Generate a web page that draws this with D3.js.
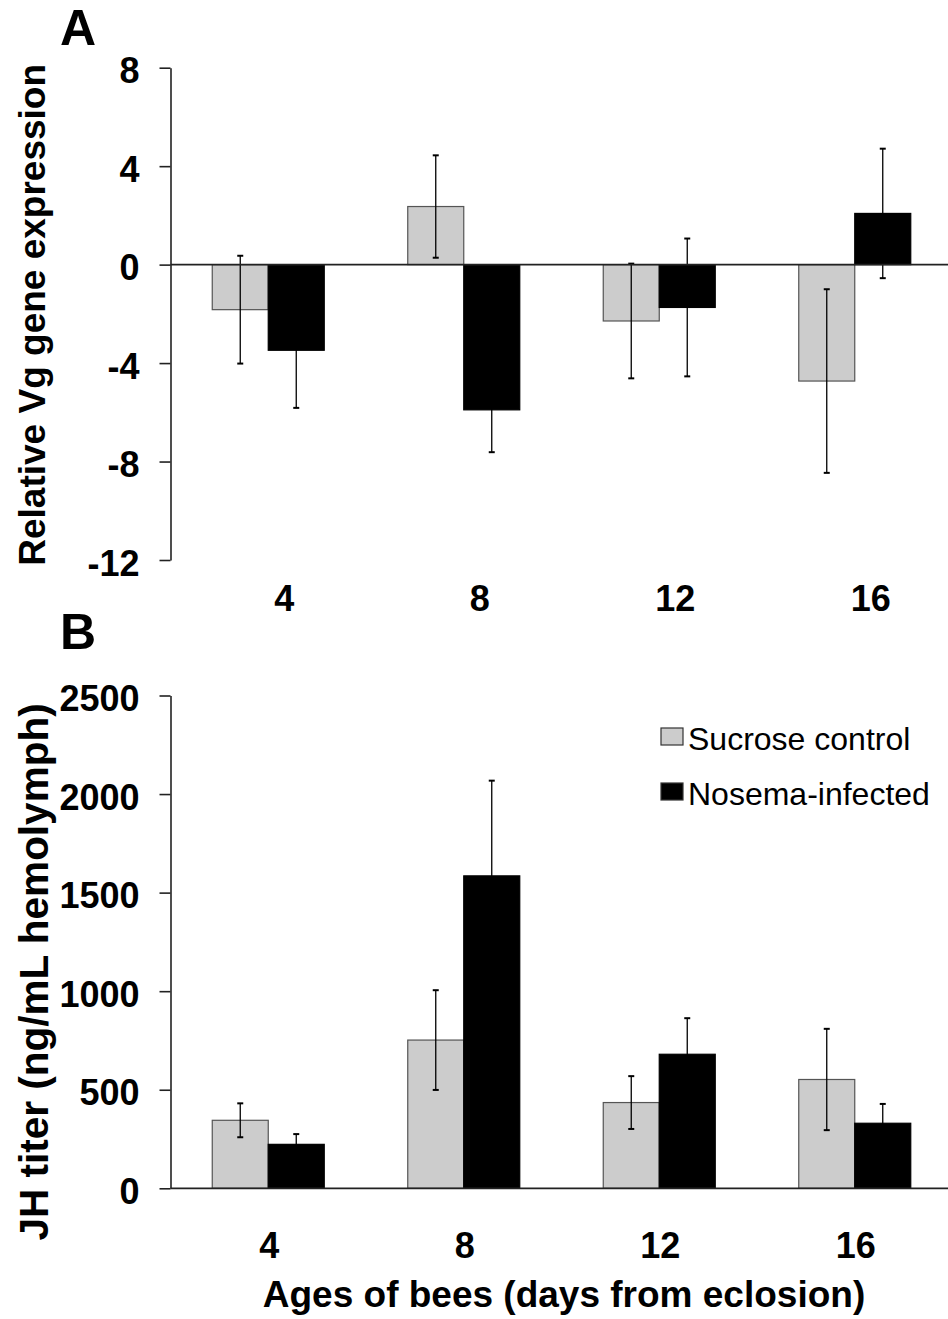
<!DOCTYPE html>
<html>
<head>
<meta charset="utf-8">
<script src="https://cdn.jsdelivr.net/npm/d3@7"></script>
<style>
  html, body { margin: 0; padding: 0; background: #fff; }
  svg { display: block; }
  text { font-family: "Liberation Sans", Arial, sans-serif; fill: #000; }
</style>
</head>
<body>
<svg id="chart" width="948" height="1319"></svg>
<script>
// ---- Data ----
const categories = ["4", "8", "12", "16"];
const seriesNames = ["Sucrose control", "Nosema-infected"];

// Panel A: Relative Vg gene expression
const vgSucrose    = [-1.83, 2.36, -2.29, -4.73];
const vgSucroseErr = [2.19, 2.08, 2.33, 3.73];
const vgNosema     = [-3.48, -5.9, -1.74, 2.08];
const vgNosemaErr  = [2.34, 1.72, 2.8, 2.63];
const vgTicks = [-12, -8, -4, 0, 4, 8];

// Panel B: JH titer
const jhSucrose    = [345, 752, 435, 552];
const jhSucroseErr = [86, 253, 134, 257];
const jhNosema     = [223, 1585, 680, 330];
const jhNosemaErr  = [52, 483, 183, 98];
const jhTicks = [0, 500, 1000, 1500, 2000, 2500];

const seriesColors = ["#cccccc", "#000000"];

// ---- Layout ----
const svg = d3.select("#chart");
const axisX = 170.5;
const barW = 56;

const x = d3.scaleBand().domain(categories).range([axisX, 952.5]).paddingInner(0).paddingOuter(0);

function drawPanel(opts) {
  const { y, ticks, sA, sAe, sB, sBe, baseVal, labelDx, labelY, letter, letterY, title, titleX, titleSize } = opts;
  const g = svg.append("g");

  // y axis
  const ax = g.append("g")
    .attr("transform", `translate(${axisX},0)`)
    .call(d3.axisLeft(y).tickValues(ticks).tickSize(11).tickSizeOuter(0).tickPadding(20).tickFormat(d => String(d)));
  ax.select(".domain").attr("stroke", "#222").attr("stroke-width", 1.6);
  ax.selectAll(".tick line").attr("stroke", "#222").attr("stroke-width", 1.6);
  ax.selectAll(".tick text")
    .attr("font-size", 36).attr("font-weight", "bold")
    .attr("font-family", "'Liberation Sans', Arial, sans-serif")
    .attr("fill", "#000").attr("dy", "0.42em");

  const series = [
    { vals: sA, errs: sAe, color: seriesColors[0], off: -barW, stroke: "#555" },
    { vals: sB, errs: sBe, color: seriesColors[1], off: 0, stroke: "#000" }
  ];

  series.forEach(s => {
    categories.forEach((c, i) => {
      const cx = x(c) + x.bandwidth() / 2 + s.off;
      const v = s.vals[i];
      const y0 = y(baseVal), y1 = y(v);
      g.append("rect")
        .attr("x", cx).attr("width", barW)
        .attr("y", Math.min(y0, y1)).attr("height", Math.abs(y1 - y0))
        .attr("fill", s.color).attr("stroke", s.stroke).attr("stroke-width", 1.2);
    });
  });

  // error bars
  series.forEach(s => {
    categories.forEach((c, i) => {
      const ex = x(c) + x.bandwidth() / 2 + s.off + barW / 2;
      const lo = y(s.vals[i] - s.errs[i]), hi = y(s.vals[i] + s.errs[i]);
      g.append("line").attr("x1", ex).attr("x2", ex).attr("y1", lo).attr("y2", hi)
        .attr("stroke", "#000").attr("stroke-width", 1.3);
      [lo, hi].forEach(yy => {
        g.append("line").attr("x1", ex - 3).attr("x2", ex + 3).attr("y1", yy).attr("y2", yy)
          .attr("stroke", "#000").attr("stroke-width", 2);
      });
    });
  });

  // baseline
  g.append("line")
    .attr("x1", axisX).attr("x2", 948)
    .attr("y1", y(baseVal)).attr("y2", y(baseVal))
    .attr("stroke", "#222").attr("stroke-width", 1.8);

  // category labels
  g.selectAll(".cat").data(categories).enter().append("text")
    .attr("x", d => x(d) + x.bandwidth() / 2 + labelDx)
    .attr("y", labelY)
    .attr("text-anchor", "middle")
    .attr("font-size", 36).attr("font-weight", "bold")
    .text(d => d);

  // panel letter
  g.append("text").attr("x", 60).attr("y", letterY)
    .attr("font-size", 50).attr("font-weight", "bold").text(letter);

  // y title
  const yr = y.range();
  const cy = (yr[0] + yr[1]) / 2 + opts.titleShift;
  g.append("text")
    .attr("transform", `translate(${titleX},${cy}) rotate(-90)`)
    .attr("text-anchor", "middle")
    .attr("font-size", titleSize).attr("font-weight", "bold")
    .text(title);
  return g;
}

const yA = d3.scaleLinear().domain([-12, 8]).range([560, 67.7]);
drawPanel({
  y: yA, ticks: vgTicks, sA: vgSucrose, sAe: vgSucroseErr, sB: vgNosema, sBe: vgNosemaErr,
  baseVal: 0, labelDx: 16, labelY: 611, letter: "A", letterY: 45,
  title: "Relative Vg gene expression", titleX: 45, titleSize: 37, titleShift: 1
});

const yB = d3.scaleLinear().domain([0, 2500]).range([1188.3, 695.5]);
drawPanel({
  y: yB, ticks: jhTicks, sA: jhSucrose, sAe: jhSucroseErr, sB: jhNosema, sBe: jhNosemaErr,
  baseVal: 0, labelDx: 1, labelY: 1258, letter: "B", letterY: 649,
  title: "JH titer (ng/mL hemolymph)", titleX: 48, titleSize: 40.5, titleShift: 30
});

// x title
svg.append("text")
  .attr("x", 564).attr("y", 1307)
  .attr("text-anchor", "middle")
  .attr("font-size", 37).attr("font-weight", "bold")
  .text("Ages of bees (days from eclosion)");

// legend
const legend = svg.append("g");
const legendY = [728, 783];
seriesNames.forEach((n, i) => {
  legend.append("rect").attr("x", 661).attr("y", legendY[i]).attr("width", 22).attr("height", 17)
    .attr("fill", seriesColors[i]).attr("stroke", "#333").attr("stroke-width", 1.2);
  legend.append("text").attr("x", 688).attr("y", legendY[i] + 22)
    .attr("font-size", 32).text(n);
});
</script>
</body>
</html>
